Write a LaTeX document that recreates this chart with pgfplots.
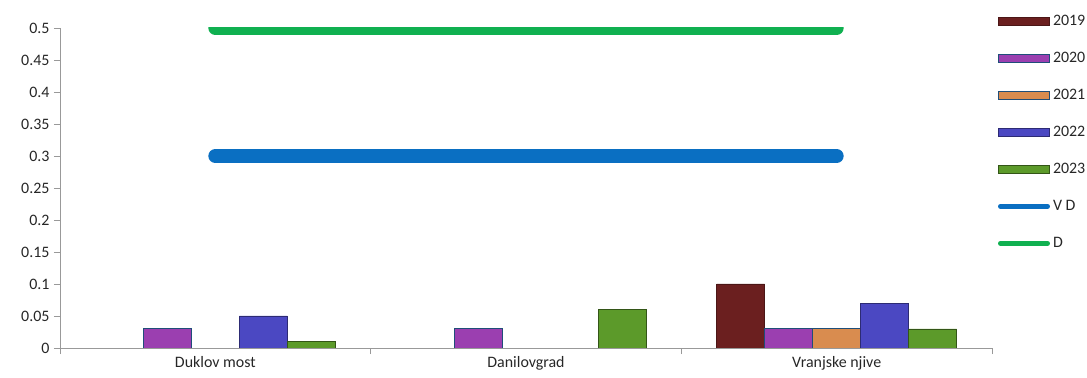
\documentclass[border=0pt]{standalone}
\usepackage{pgfplots}
\pgfplotsset{compat=1.18}
\usepackage{fontspec}
\setmainfont{Carlito}

\definecolor{c2019}{HTML}{6B1F1F}
\definecolor{c2020}{HTML}{9B3FB0}
\definecolor{c2021}{HTML}{D98C4F}
\definecolor{c2022}{HTML}{4B48C2}
\definecolor{c2023}{HTML}{5C9A2A}
\definecolor{edgeblue}{HTML}{1F4E79}
\definecolor{cvd}{HTML}{0A6FC2}
\definecolor{cd}{HTML}{10B050}

\pgfplotstableread{
x y2019 y2020 y2021 y2022 y2023
0 0    0.03 0    0.05 0.01
1 0    0.03 0    0    0.06
2 0.10 0.03 0.03 0.07 0.03
}\mydata

\begin{document}
\begin{tikzpicture}
\useasboundingbox (-60bp,-30bp) rectangle (1027bp,348bp);
\begin{axis}[
  scale only axis,
  width=932bp, height=320bp,
  at={(0,0)}, anchor=south west,
  xmin=-0.5, xmax=2.5,
  ymin=0, ymax=0.5,
  ytick={0,0.05,...,0.5},
  /pgf/number format/fixed,
  /pgf/number format/precision=2,
  /pgf/number format/assume math mode=true,
  xtick={-0.5,0.5,1.5,2.5},
  x tick label as interval,
  xticklabels={Duklov most, Danilovgrad, Vranjske njive},
  axis lines*=left,
  axis line style={draw=gray!80, line width=0.8pt},
  tick style={draw=gray!80, line width=0.8pt},
  tick align=outside,
  major tick length=6bp,
  font=\fontsize{16}{18}\selectfont,
  ticklabel style={font=\fontsize{16}{18}\selectfont, text=black!85},
  yticklabel style={xshift=-1bp},
  xticklabel style={yshift=1bp},
  legend style={draw=none, fill=none, at={(1.003,1.05)}, anchor=north west,
    nodes={inner sep=0pt, minimum height=14bp, anchor=west, text=black!85},
    row sep=23bp, column sep=3bp,
    font=\fontsize{16}{18}\selectfont},
  legend cell align=left,
]
\pgfplotsset{
  barleg/.style={legend image code/.code={\draw[##1] (0bp,-4bp) rectangle (51bp,4bp);}},
  lineleg/.style={legend image code/.code={\draw[##1, line width=5bp] (2bp,0bp) -- (49bp,0bp);}},
}
\addplot[ybar, bar width=48bp, bar shift=-96bp, fill=c2019, draw=c2019!70!black, barleg] table[x=x, y=y2019] {\mydata};
\addlegendentry{2019}
\addplot[ybar, bar width=48bp, bar shift=-48bp, fill=c2020, draw=edgeblue, line width=1pt, barleg] table[x=x, y=y2020] {\mydata};
\addlegendentry{2020}
\addplot[ybar, bar width=48bp, bar shift=0bp, fill=c2021, draw=edgeblue, line width=1pt, barleg] table[x=x, y=y2021] {\mydata};
\addlegendentry{2021}
\addplot[ybar, bar width=48bp, bar shift=48bp, fill=c2022, draw=c2022!60!black, barleg] table[x=x, y=y2022] {\mydata};
\addlegendentry{2022}
\addplot[ybar, bar width=48bp, bar shift=96bp, fill=c2023, draw=c2023!55!black, barleg] table[x=x, y=y2023] {\mydata};
\addlegendentry{2023}
\addplot[cvd, line width=14bp, line cap=round, lineleg] coordinates {(0,0.3) (2,0.3)};
\addlegendentry{V D}
\addplot[cd, line width=14bp, line cap=round, lineleg] coordinates {(0,0.5) (2,0.5)};
\addlegendentry{D}
\end{axis}
\end{tikzpicture}
\end{document}
